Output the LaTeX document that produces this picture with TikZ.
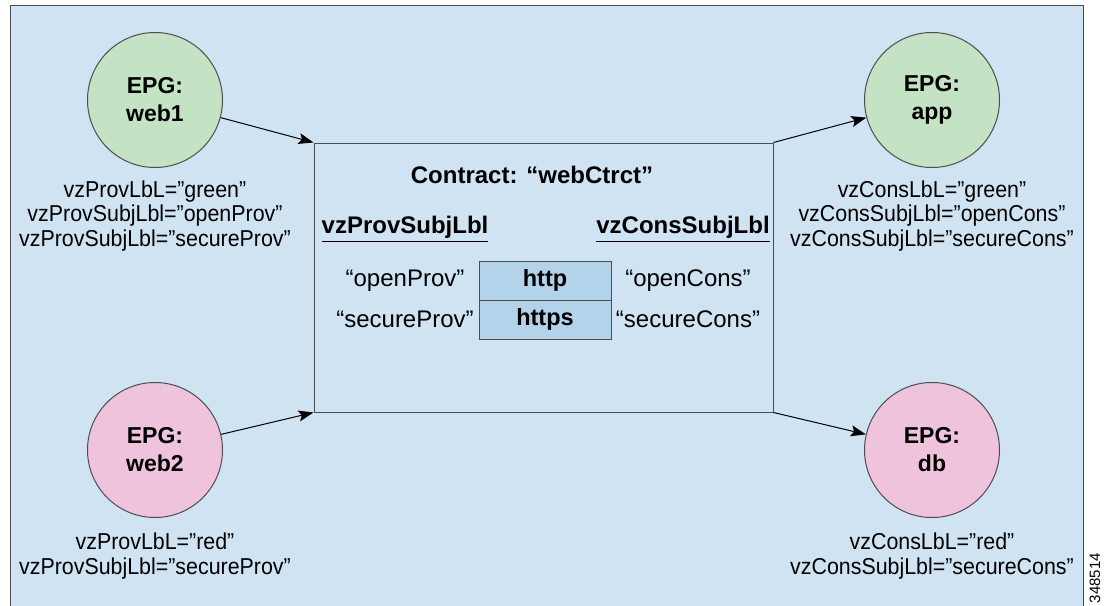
\documentclass[tikz,border=0pt]{standalone}
\usepackage{fontspec}
\setmainfont{Liberation Sans}
\newfontfamily\narrowfont[FakeStretch=0.93]{Liberation Sans}
\usetikzlibrary{positioning, arrows.meta}
\definecolor{fond}{HTML}{D0E3F3}
\definecolor{vert}{HTML}{C3E3C4}
\definecolor{rose}{HTML}{F0C3DD}
\definecolor{cellule}{HTML}{B3D3EB}
\definecolor{trait}{HTML}{4D4D4D}

\begin{document}
\begin{tikzpicture}[x=0.5pt, y=-0.5pt, on grid,
    >={Stealth[length=7.5pt, width=5.5pt, inset=1.5pt]},
    epg/.style={circle, draw=trait, line width=0.5pt, minimum size=67.5pt, inner sep=0pt,
        align=center, font=\bfseries\fontsize{11.5}{14}\selectfont},
    lbl/.style={align=center, inner sep=0pt, font=\narrowfont\fontsize{11.5}{12.25}\selectfont},
    cellbox/.style={draw=trait, fill=cellule, line width=0.5pt, minimum width=66pt,
        minimum height=19.5pt, inner sep=0pt, font=\bfseries\fontsize{11.75}{14}\selectfont},
    txt/.style={inner sep=0pt, font=\fontsize{12}{14}\selectfont},
    head/.style={inner sep=0pt, font=\bfseries\fontsize{12}{14}\selectfont}]

            % Fond et cadre
            \clip (0,0) rectangle (1108,605);
            \fill[white] (0,0) rectangle (1108,605);
            \draw[trait, fill=fond, line width=0.5pt] (10,5) rectangle (1083,640);
            \node[rotate=90, inner sep=0pt, font=\fontsize{7.5}{9}\selectfont] (num) at (1095,578) {348514};

            % Définitions des EPG
            \node[epg, fill=vert] (web1) at (155,100) {EPG:\\web1};
            \node[epg, fill=rose] (web2) at (155,450) {EPG:\\web2};
            \node[epg, fill=vert] (app) at (932,100) {EPG:\\app};
            \node[epg, fill=rose] (db) at (932,450) {EPG:\\db};

            \node[lbl, below=58pt of web1] (lweb1) {vzProvLbL=”green”\\vzProvSubjLbl=”openProv”\\vzProvSubjLbl=”secureProv”};
            \node[lbl, below=53pt of web2] (lweb2) {vzProvLbL=”red”\\vzProvSubjLbl=”secureProv”};
            \node[lbl, below=58pt of app] (lapp) {vzConsLbL=”green”\\vzConsSubjLbl=”openCons”\\vzConsSubjLbl=”secureCons”};
            \node[lbl, below=53pt of db] (ldb) {vzConsLbL=”red”\\vzConsSubjLbl=”secureCons”};

            % Contrat
            \node[draw=trait, line width=0.5pt, minimum width=229.5pt, minimum height=134.5pt, inner sep=0pt] (ctr) at (543.5,277.5) {};
            \node[head] (titre) at (532,175) {Contract: “webCtrct”};
            \node[head] (prov) at (405,229) {\underline{vzProvSubjLbl}};
            \node[head] (cons) at (683,229) {\underline{vzConsSubjLbl}};

            \node[cellbox] (http) at (545,280.5) {http};
            \node[cellbox, below=19.5pt of http] (https) {https};
            \node[txt, left=70pt of http] (openP) {“openProv”};
            \node[txt, left=70pt of https] (secP) {“secureProv”};
            \node[txt, right=71.5pt of http] (openC) {“openCons”};
            \node[txt, right=71.5pt of https] (secC) {“secureCons”};

            % Définition des flèches
            \path[->, line width=0.5pt]
            (web1) edge (ctr.north west)
            (web2) edge (ctr.south west)
            (ctr.north east) edge (app)
            (ctr.south east) edge (db);

\end{tikzpicture}
\end{document}
